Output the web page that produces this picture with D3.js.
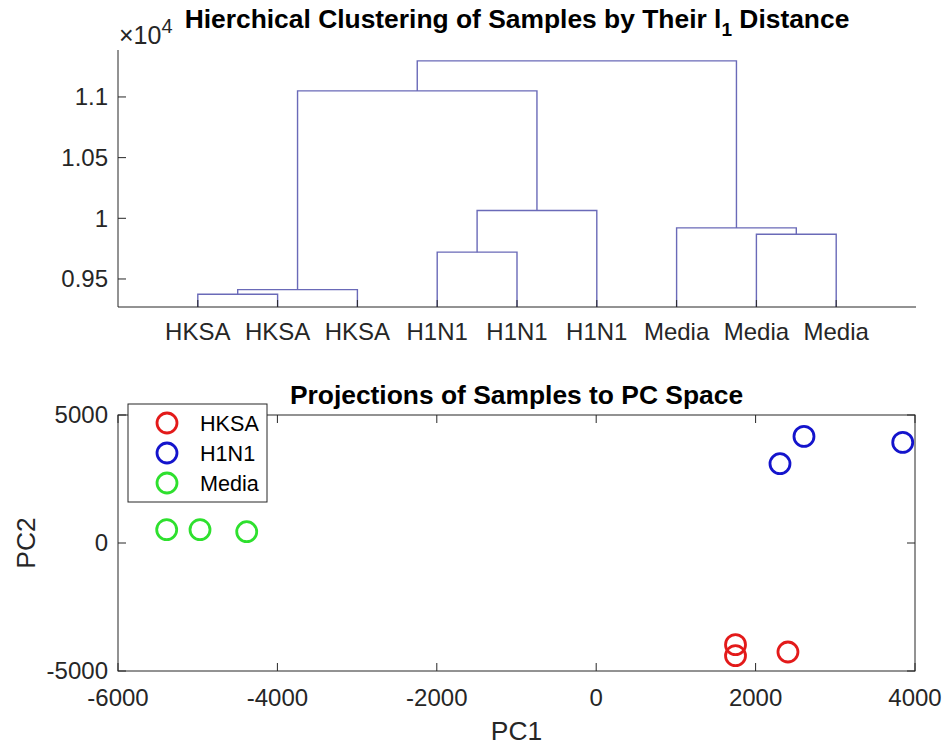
<!DOCTYPE html>
<html><head><meta charset="utf-8">
<script src="https://cdn.jsdelivr.net/npm/d3@7"></script>
<style>body{margin:0;background:#fff}svg{display:block}text{font-family:"Liberation Sans",Arial,Helvetica,sans-serif}</style>
</head><body>
<script>
// ---- Data ----
const leafLabels = ["HKSA","HKSA","HKSA","H1N1","H1N1","H1N1","Media","Media","Media"];
// linkage rows: [nodeA, nodeB, height]; leaves are 1..9, new nodes numbered 10..
const linkage = [
  [1, 2, 9374],
  [10, 3, 9412],
  [4, 5, 9721],
  [8, 9, 9868],
  [7, 13, 9921],
  [12, 6, 10064],
  [11, 15, 11050],
  [16, 14, 11297]
];
const dendroYTicks = [9500, 10000, 10500, 11000];

const hksaX = [1748, 1748, 2406];
const hksaY = [-3972, -4402, -4258];
const h1n1X = [2306, 2607, 3846];
const h1n1Y = [3097, 4164, 3929];
const mediaX = [-5389, -4971, -4385];
const mediaY = [520, 520, 441];
const groupNames = ["HKSA", "H1N1", "Media"];
const groupColors = ["#e31a1a", "#1414cc", "#2ee02e"];
const pcXTicks = [-6000, -4000, -2000, 0, 2000, 4000];
const pcYTicks = [-5000, 0, 5000];

// ---- Setup ----
const W = 947, H = 749;
const svg = d3.select("body").append("svg").attr("width", W).attr("height", H);
const axisColor = "#262626";
const tickFont = 24, labelFont = 26.4, legendFont = 21.6;

// ---- Dendrogram ----
const d1 = {l: 118, r: 916, t: 50, b: 307};
const x1 = d3.scaleLinear().domain([0, 10]).range([d1.l, d1.r]);
const y1 = d3.scaleLinear().domain([9269, 11387]).range([d1.b, d1.t]);

svg.append("defs").append("clipPath").attr("id", "clip1")
  .append("rect").attr("x", d1.l).attr("y", d1.t - 2).attr("width", d1.r - d1.l).attr("height", d1.b - d1.t + 2);

const nodeX = {}, nodeH = {};
leafLabels.forEach((_, i) => { nodeX[i + 1] = i + 1; nodeH[i + 1] = 0; });
const g1 = svg.append("g").attr("clip-path", "url(#clip1)");
linkage.forEach((row, k) => {
  const [a, b, h] = row;
  const id = leafLabels.length + 1 + k;
  nodeX[id] = (nodeX[a] + nodeX[b]) / 2;
  nodeH[id] = h;
  const ya = nodeH[a] === 0 ? d1.b + 5 : y1(nodeH[a]);
  const yb = nodeH[b] === 0 ? d1.b + 5 : y1(nodeH[b]);
  const p = d3.path();
  p.moveTo(x1(nodeX[a]), ya);
  p.lineTo(x1(nodeX[a]), y1(h));
  p.lineTo(x1(nodeX[b]), y1(h));
  p.lineTo(x1(nodeX[b]), yb);
  g1.append("path").attr("d", p.toString()).attr("fill", "none")
    .attr("stroke", "#6a6ab8").attr("stroke-width", 1.4);
});

// axes (left + bottom only)
const ax1 = svg.append("g");
ax1.append("line").attr("x1", d1.l).attr("x2", d1.l).attr("y1", d1.t).attr("y2", d1.b)
  .attr("stroke", axisColor).attr("stroke-width", 1);
ax1.append("line").attr("x1", d1.l).attr("x2", d1.r).attr("y1", d1.b).attr("y2", d1.b)
  .attr("stroke", axisColor).attr("stroke-width", 1);
dendroYTicks.forEach(v => {
  ax1.append("line").attr("x1", d1.l).attr("x2", d1.l + 8).attr("y1", y1(v)).attr("y2", y1(v))
    .attr("stroke", axisColor);
  ax1.append("text").attr("x", d1.l - 10).attr("y", y1(v)).attr("dy", "0.35em")
    .attr("text-anchor", "end").attr("font-size", tickFont).attr("fill", axisColor)
    .text(d3.format("~g")(v / 10000));
});
leafLabels.forEach((lab, i) => {
  const xx = x1(i + 1);
  ax1.append("line").attr("x1", xx).attr("x2", xx).attr("y1", d1.b).attr("y2", d1.b - 7)
    .attr("stroke", axisColor);
  ax1.append("text").attr("x", xx).attr("y", 340).attr("text-anchor", "middle")
    .attr("font-size", tickFont).attr("fill", axisColor).text(lab);
});
// exponent label
const ex = ax1.append("text").attr("x", 119).attr("y", 44).attr("font-size", 25).attr("fill", axisColor);
ex.append("tspan").text("\u00d710");
ex.append("tspan").attr("dy", -11).attr("font-size", 20).text("4");

// title 1
const t1 = svg.append("text").attr("x", (d1.l + d1.r) / 2).attr("y", 28).attr("text-anchor", "middle")
  .attr("font-size", labelFont).attr("font-weight", "bold").attr("fill", "#000");
t1.append("tspan").text("Hierchical Clustering of Samples by Their l");
t1.append("tspan").attr("dy", 8).attr("font-size", 19).text("1");
t1.append("tspan").attr("dy", -8).text(" Distance");

// ---- PCA scatter ----
const d2 = {l: 118, r: 915, t: 415, b: 671};
const x2 = d3.scaleLinear().domain([-6000, 4000]).range([d2.l, d2.r]);
const y2 = d3.scaleLinear().domain([-5000, 5000]).range([d2.b, d2.t]);
const ax2 = svg.append("g");
ax2.append("rect").attr("x", d2.l).attr("y", d2.t).attr("width", d2.r - d2.l).attr("height", d2.b - d2.t)
  .attr("fill", "none").attr("stroke", axisColor).attr("stroke-width", 1);
pcXTicks.forEach(v => {
  const xx = x2(v);
  ax2.append("line").attr("x1", xx).attr("x2", xx).attr("y1", d2.b).attr("y2", d2.b - 8).attr("stroke", axisColor);
  ax2.append("line").attr("x1", xx).attr("x2", xx).attr("y1", d2.t).attr("y2", d2.t + 8).attr("stroke", axisColor);
  ax2.append("text").attr("x", xx).attr("y", 706).attr("text-anchor", "middle")
    .attr("font-size", tickFont).attr("fill", axisColor).text(String(v));
});
pcYTicks.forEach(v => {
  const yy = y2(v);
  ax2.append("line").attr("x1", d2.l).attr("x2", d2.l + 8).attr("y1", yy).attr("y2", yy).attr("stroke", axisColor);
  ax2.append("line").attr("x1", d2.r).attr("x2", d2.r - 8).attr("y1", yy).attr("y2", yy).attr("stroke", axisColor);
  ax2.append("text").attr("x", d2.l - 10).attr("y", yy).attr("dy", "0.35em").attr("text-anchor", "end")
    .attr("font-size", tickFont).attr("fill", axisColor).text(String(v));
});
svg.append("text").attr("x", (d2.l + d2.r) / 2).attr("y", 740).attr("text-anchor", "middle")
  .attr("font-size", labelFont).attr("fill", axisColor).text("PC1");
svg.append("text").attr("transform", `translate(35,${(d2.t + d2.b) / 2}) rotate(-90)`)
  .attr("text-anchor", "middle").attr("font-size", labelFont).attr("fill", axisColor).text("PC2");
svg.append("text").attr("x", (d2.l + d2.r) / 2).attr("y", 404).attr("text-anchor", "middle")
  .attr("font-size", labelFont).attr("font-weight", "bold").attr("fill", "#000")
  .text("Projections of Samples to PC Space");

const groups = [[hksaX, hksaY], [h1n1X, h1n1Y], [mediaX, mediaY]];
groups.forEach(([xs, ys], gi) => {
  svg.append("g").selectAll("circle").data(xs.map((x, i) => [x, ys[i]])).join("circle")
    .attr("cx", d => x2(d[0])).attr("cy", d => y2(d[1])).attr("r", 10)
    .attr("fill", "none").attr("stroke", groupColors[gi]).attr("stroke-width", 2.8);
});

// legend
const lg = svg.append("g");
lg.append("rect").attr("x", 128).attr("y", 404).attr("width", 139).attr("height", 98)
  .attr("fill", "#fff").attr("stroke", axisColor).attr("stroke-width", 1);
groupNames.forEach((n, i) => {
  const yy = 423 + i * 30;
  lg.append("circle").attr("cx", 167).attr("cy", yy).attr("r", 10).attr("fill", "none")
    .attr("stroke", groupColors[i]).attr("stroke-width", 2.8);
  lg.append("text").attr("x", 200).attr("y", yy).attr("dy", "0.35em").attr("font-size", legendFont)
    .attr("fill", "#000").text(n);
});
</script>
</body></html>
